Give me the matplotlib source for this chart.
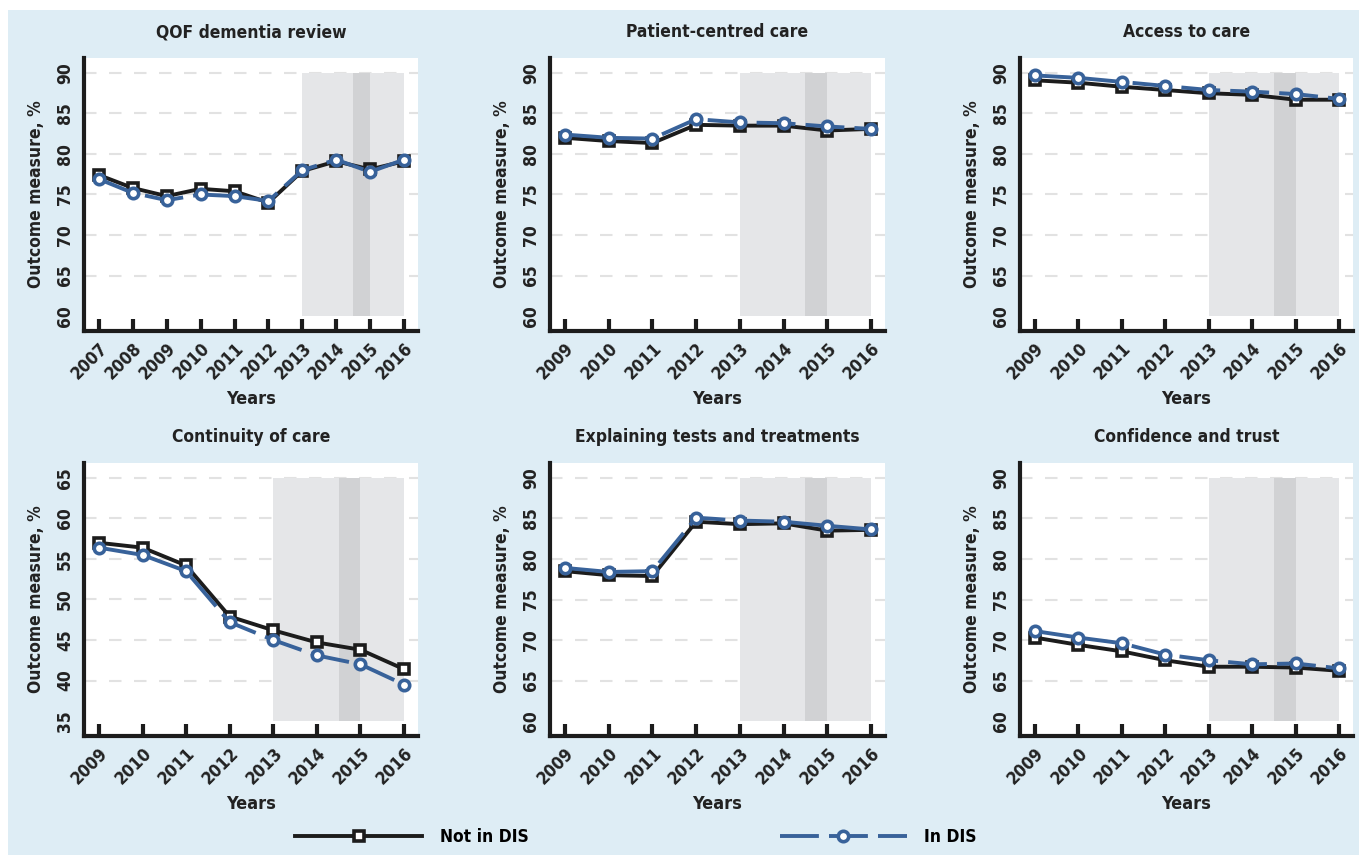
import numpy as np
import matplotlib
matplotlib.use("Agg")
import matplotlib.pyplot as plt
from matplotlib.lines import Line2D
from matplotlib.patches import Rectangle

plt.rcParams['font.family'] = ['DejaVu Sans']
plt.rcParams['font.stretch'] = 'condensed'
plt.rcParams['font.weight'] = 'bold'

# data
titles = ['QOF dementia review', 'Patient-centred care', 'Access to care',
          'Continuity of care', 'Explaining tests and treatments', 'Confidence and trust']

years_qof = list(range(2007, 2017))
years_gpps = list(range(2009, 2017))

qof_not = [77.4, 75.8, 74.8, 75.7, 75.4, 74.0, 77.9, 79.1, 78.1, 79.1]
qof_in = [76.9, 75.2, 74.3, 75.0, 74.8, 74.2, 78.0, 79.3, 77.8, 79.3]

pcc_not = [82.0, 81.6, 81.35, 83.6, 83.5, 83.5, 82.9, 83.1]
pcc_in = [82.4, 82.0, 81.9, 84.3, 83.9, 83.8, 83.4, 83.1]

access_not = [89.1, 88.8, 88.3, 87.9, 87.5, 87.3, 86.7, 86.7]
access_in = [89.7, 89.4, 88.9, 88.4, 87.9, 87.7, 87.4, 86.8]

cont_not = [57.0, 56.4, 54.2, 47.9, 46.2, 44.7, 43.8, 41.4]
cont_in = [56.4, 55.5, 53.5, 47.2, 45.0, 43.1, 42.0, 39.5]

expl_not = [78.5, 78.0, 77.9, 84.6, 84.3, 84.4, 83.5, 83.6]
expl_in = [78.9, 78.4, 78.5, 85.1, 84.75, 84.6, 84.1, 83.65]

conf_not = [70.3, 69.4, 68.6, 67.5, 66.7, 66.7, 66.6, 66.2]
conf_in = [71.1, 70.3, 69.6, 68.2, 67.5, 67.0, 67.1, 66.5]

panels = [
    (years_qof, qof_not, qof_in, (60, 90)),
    (years_gpps, pcc_not, pcc_in, (60, 90)),
    (years_gpps, access_not, access_in, (60, 90)),
    (years_gpps, cont_not, cont_in, (35, 65)),
    (years_gpps, expl_not, expl_in, (60, 90)),
    (years_gpps, conf_not, conf_in, (60, 90)),
]

shade_span = (2013, 2016)
dark_span = (2014.5, 2015)

BG = '#deedf5'
BLUE = '#38629a'
BLACK = '#1c1c1c'
LIGHT = '#e5e6e8'
DARK = '#d1d2d4'

W, H = 1359, 855
fig = plt.figure(figsize=(W / 100, H / 100), dpi=100)
fig.patches.append(Rectangle((8 / W, 0), 1, 1 - 10 / H, transform=fig.transFigure,
                             facecolor=BG, edgecolor='none', zorder=-10))

lefts = [84, 550, 1020]
widths = [334, 335, 333]
tops = [58, 463]
ax_h = 273

for i, (yrs, not_dis, in_dis, (lo, hi)) in enumerate(panels):
    r, c = divmod(i, 3)
    rect = [lefts[c] / W, 1 - (tops[r] + ax_h) / H, widths[c] / W, ax_h / H]
    ax = fig.add_axes(rect)
    ax.set_facecolor('white')

    pad_y = (hi - lo) * 0.0617
    ax.set_ylim(lo - pad_y, hi + pad_y)
    span = yrs[-1] - yrs[0]
    ax.set_xlim(yrs[0] - span * 0.049, yrs[-1] + span * 0.046)

    ticks = np.arange(lo, hi + 1, 5)
    for t in ticks[1:]:
        ax.axhline(t, color='#e2e2e2', lw=1.5, ls=(0, (6, 6)), zorder=0)

    ax.fill_between(shade_span, lo, hi, color=LIGHT, lw=0, zorder=1)
    ax.fill_between(dark_span, lo, hi, color=DARK, lw=0, zorder=1)

    ax.plot(yrs, not_dis, color=BLACK, lw=2.8, marker='s', ms=7.5,
            mfc='white', mec=BLACK, mew=2.6, zorder=3)
    ax.plot(yrs, in_dis, color=BLUE, lw=2.8, dashes=(10, 2.6), marker='o', ms=7.5,
            mfc='white', mec=BLUE, mew=2.6, zorder=4)

    ax.set_xticks(yrs)
    ax.set_xticklabels([str(y) for y in yrs], rotation=45, ha='right',
                       rotation_mode='anchor', fontsize=12.5, color='#222222')
    ax.set_yticks(ticks)
    ax.set_yticklabels([str(t) for t in ticks], rotation=90, va='center',
                       fontsize=12.5, color='#222222')
    ax.tick_params(axis='x', direction='in', length=9, width=3, color=BLACK, pad=6)
    ax.tick_params(axis='y', length=0, pad=7)

    for s in ['top', 'right']:
        ax.spines[s].set_visible(False)
    for s in ['left', 'bottom']:
        ax.spines[s].set_linewidth(3)
        ax.spines[s].set_color(BLACK)

    ax.set_title(titles[i], fontsize=12.5, fontweight='bold', pad=15, color='#222222')
    ax.set_xlabel('Years', fontsize=13, fontweight='bold', labelpad=5, color='#222222')
    ax.set_ylabel('Outcome measure, %', fontsize=12.5, fontweight='bold', labelpad=8,
                  color='#222222')

handles = [
    Line2D([], [], color=BLACK, lw=2.8, marker='s', ms=7.5, mfc='white', mec=BLACK, mew=2.6),
    Line2D([], [], color=BLUE, lw=2.8, dashes=(10, 2.6), marker='o', ms=7.5, mfc='white',
           mec=BLUE, mew=2.6),
]
fig.legend(handles, ['Not in DIS', 'In DIS'], loc='center', ncol=2,
           bbox_to_anchor=(0.468, 1 - 837 / H), frameon=False, fontsize=12.5,
           handlelength=7.3, handletextpad=1.0, columnspacing=14.5)

fig.savefig('out.png', dpi=100, facecolor='white')
